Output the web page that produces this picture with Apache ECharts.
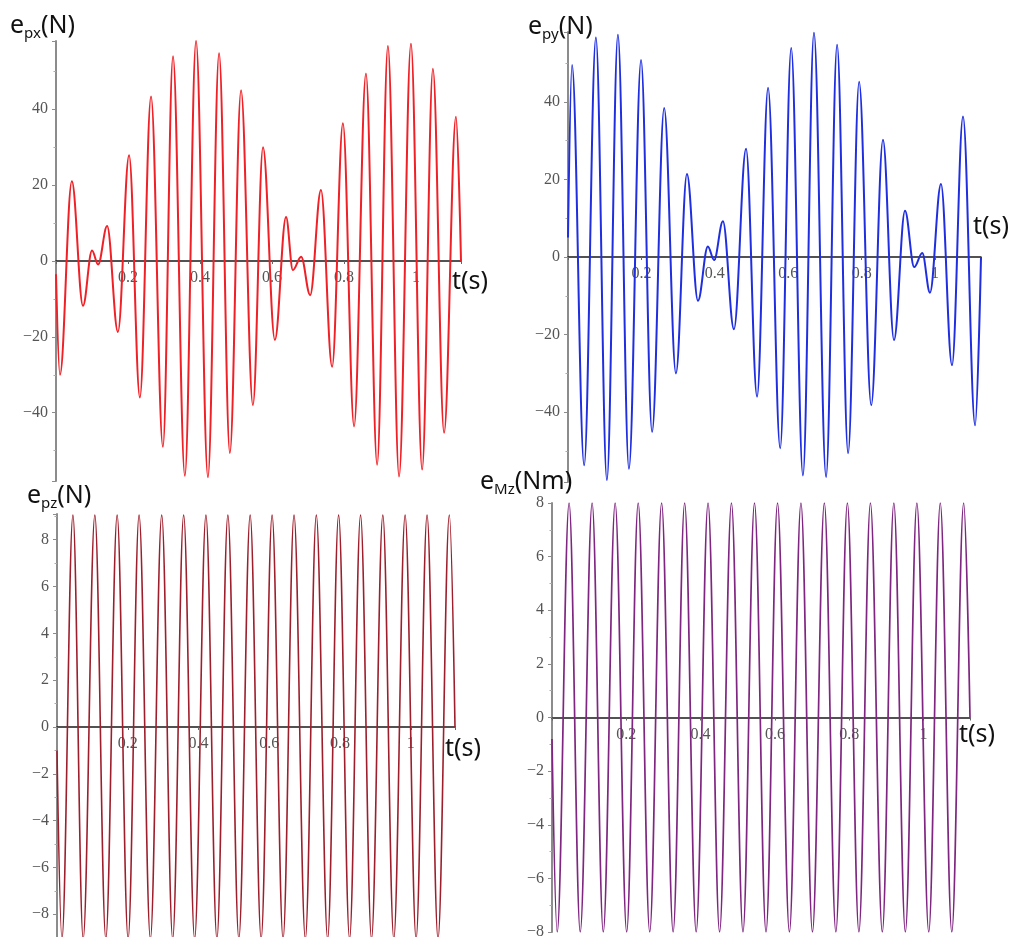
<!DOCTYPE html>
<html>
<head>
<meta charset="utf-8">
<script src="https://cdn.jsdelivr.net/npm/echarts@6/dist/echarts.min.js"></script>
<style>
  html, body { margin: 0; padding: 0; background: #fff; }
  #chart { width: 1014px; height: 937px; }
</style>
</head>
<body>
<div id="chart"></div>
<script>
// ---- Data (extrema of each trace) ----
const tPx = [0, 0.011, 0.044, 0.075, 0.100, 0.117, 0.142, 0.172, 0.203, 0.233, 0.264, 0.297, 0.325, 0.358, 0.389, 0.422, 0.453, 0.483, 0.514, 0.547, 0.575, 0.608, 0.639, 0.658, 0.681, 0.706, 0.736, 0.767, 0.797, 0.828, 0.861, 0.892, 0.922, 0.953, 0.986, 1.017, 1.047, 1.078, 1.111, 1.125];
const ePx = [-3.5, -30, 21, -11.8, 2.8, -0.9, 9.2, -18.7, 27.9, -36, 43.4, -49, 54, -56.6, 58, -57, 54.8, -50.6, 45, -38, 30, -20.8, 11.6, -2.4, 1.1, -9, 18.7, -27.9, 36.3, -43.6, 49.4, -53.7, 56.7, -56.8, 57.3, -55, 50.7, -45.3, 38, 0];

const tPy = [0, 0.011, 0.044, 0.076, 0.106, 0.136, 0.166, 0.199, 0.229, 0.262, 0.294, 0.324, 0.354, 0.381, 0.398, 0.422, 0.452, 0.485, 0.515, 0.545, 0.578, 0.608, 0.640, 0.670, 0.703, 0.733, 0.763, 0.793, 0.826, 0.858, 0.888, 0.918, 0.943, 0.965, 0.986, 1.016, 1.046, 1.076, 1.109, 1.125];
const ePy = [5, 49.5, -53.7, 56.6, -57.5, 57.3, -54.6, 50.8, -45.1, 38.4, -30, 21.4, -11.3, 2.7, -0.8, 9.2, -18.6, 27.9, -36, 43.6, -49.3, 53.9, -56.3, 57.8, -56.7, 54.7, -50.6, 45.2, -38.2, 30.2, -21.4, 11.9, -2.6, 1.0, -9.2, 18.8, -27.9, 36.2, -43.4, 0];

const tPz = [0, 0.014, 0.045, 0.074, 0.107, 0.138, 0.170, 0.201, 0.232, 0.264, 0.296, 0.327, 0.358, 0.389, 0.421, 0.452, 0.483, 0.514, 0.546, 0.577, 0.608, 0.639, 0.670, 0.702, 0.733, 0.765, 0.796, 0.827, 0.858, 0.889, 0.921, 0.952, 0.984, 1.015, 1.046, 1.077, 1.109, 1.125];
const ePz = [-1, -9.05, 9.05, -9.05, 9.05, -9.05, 9.05, -9.05, 9.05, -9.05, 9.05, -9.05, 9.05, -9.05, 9.05, -9.05, 9.05, -9.05, 9.05, -9.05, 9.05, -9.05, 9.05, -9.05, 9.05, -9.05, 9.05, -9.05, 9.05, -9.05, 9.05, -9.05, 9.05, -9.05, 9.05, -9.05, 9.05, 0];

const tMz = [0, 0.014, 0.046, 0.076, 0.108, 0.138, 0.170, 0.201, 0.232, 0.263, 0.295, 0.326, 0.357, 0.388, 0.420, 0.451, 0.483, 0.514, 0.545, 0.576, 0.607, 0.639, 0.670, 0.701, 0.733, 0.764, 0.795, 0.826, 0.857, 0.889, 0.920, 0.951, 0.982, 1.014, 1.045, 1.076, 1.108, 1.125];
const eMz = [-0.8, -8, 8, -8, 8, -8, 8, -8, 8, -8, 8, -8, 8, -8, 8, -8, 8, -8, 8, -8, 8, -8, 8, -8, 8, -8, 8, -8, 8, -8, 8, -8, 8, -8, 8, -8, 8, 0];

const xTicks = [0.2, 0.4, 0.6, 0.8, 1];
const yTicksTop = [-40, -20, 0, 20, 40];
const yTicksPz = [-8, -6, -4, -2, 0, 2, 4, 6, 8];
const yTicksMz = [-8, -6, -4, -2, 0, 2, 4, 6, 8];

// ---- Build chart ----
const zip = (t, v) => t.map((x, i) => [x, v[i]]);
const fmtNum = v => (v < 0 ? '\u2212' + String(-v) : String(v));
const inList = (list, v) => list.some(x => Math.abs(x - v) < 1e-6);

const panels = [
  { grid: { left: 56, top: 41, width: 405, height: 440 }, ymin: -58, ymax: 58, split: 5, yt: yTicksTop,
    t: tPx, v: ePx, color: '#ef2026', width: 2, nameGap: -9, nameVA: 'top', namePad: [8, 0, 0, 0] },
  { grid: { left: 568, top: 32, width: 413, height: 450 }, ymin: -58, ymax: 58, split: 5, yt: yTicksTop,
    t: tPy, v: ePy, color: '#1f2fe0', width: 2, nameGap: -8, nameVA: 'bottom', namePad: [0, 0, 18, 0] },
  { grid: { left: 57, top: 514, width: 398, height: 426 }, ymin: -9.1, ymax: 9.1, split: 9, yt: yTicksPz,
    t: tPz, v: ePz, color: '#9e1f2c', width: 1.6, nameGap: -10, nameVA: 'top', namePad: [9, 0, 0, 0] },
  { grid: { left: 552, top: 503, width: 418, height: 429 }, ymin: -8, ymax: 8, interval: 2, yt: yTicksMz,
    t: tMz, v: eMz, color: '#7f2680', width: 1.7, nameGap: -11, nameVA: 'top', namePad: [5, 0, 0, 0] }
];

const labelFont = 'Liberation Serif, DejaVu Serif, serif';
const textFont = 'Noto Sans, Open Sans, sans-serif';

const titleRich = {
  m: { fontFamily: textFont, fontSize: 25, lineHeight: 30, color: '#111', fontWeight: 'normal' },
  s: { fontFamily: textFont, fontSize: 15, lineHeight: 8, color: '#111', fontWeight: 'normal', verticalAlign: 'bottom' }
};

// place the time axis on the value 0 of the force axis
const zeroOffset = p => -p.grid.height * (0 - p.ymin) / (p.ymax - p.ymin);

const option = {
  animation: false,
  backgroundColor: '#ffffff',
  title: [
    { text: '{m|e}{s|px}{m|(N)}', left: 10, top: 11, padding: 0, textStyle: { fontWeight: 'normal', rich: titleRich } },
    { text: '{m|e}{s|py}{m|(N)}', left: 528, top: 12, padding: 0, textStyle: { fontWeight: 'normal', rich: titleRich } },
    { text: '{m|e}{s|pz}{m|(N)}', left: 27, top: 481, padding: 0, textStyle: { fontWeight: 'normal', rich: titleRich } },
    { text: '{m|e}{s|Mz}{m|(Nm)}', left: 480, top: 467, padding: 0, textStyle: { fontWeight: 'normal', rich: titleRich } }
  ],
  grid: panels.map(p => Object.assign({ containLabel: false, outerBoundsMode: 'none' }, p.grid)),
  xAxis: panels.map((p, i) => ({
    type: 'value', gridIndex: i, min: 0, max: 1.125, interval: 0.2,
    position: 'bottom', offset: zeroOffset(p),
    name: 't(s)', nameLocation: 'end', nameGap: p.nameGap, nameMoveOverlap: false,
    nameTextStyle: { fontFamily: textFont, fontSize: 25, lineHeight: 25, color: '#111',
      align: 'left', verticalAlign: p.nameVA, padding: p.namePad },
    axisLine: { show: true, onZero: false, lineStyle: { color: '#1a1a1a', width: 1.5 } },
    axisTick: { show: true, length: 3, lineStyle: { color: '#666', width: 1 } },
    axisLabel: { fontFamily: labelFont, fontSize: 16, color: '#555', margin: 9,
      formatter: v => inList(xTicks, v) ? String(+v.toFixed(1)) : '' },
    splitLine: { show: false }
  })),
  yAxis: panels.map((p, i) => {
    const ax = {
      type: 'value', gridIndex: i, min: p.ymin, max: p.ymax,
      axisLine: { show: true, onZero: false, lineStyle: { color: '#8c8c8c', width: 2 } },
      axisTick: { show: true, length: 4, lineStyle: { color: '#8c8c8c', width: 1 } },
      minorTick: { show: true, splitNumber: 2, length: 2.5, lineStyle: { color: '#aaa', width: 1 } },
      axisLabel: { fontFamily: labelFont, fontSize: 16, color: '#555', margin: 8,
        formatter: v => inList(p.yt, v) ? fmtNum(Math.round(v)) : '' },
      splitLine: { show: false }
    };
    if (p.interval) ax.interval = p.interval; else ax.splitNumber = p.split;
    return ax;
  }),
  series: panels.map((p, i) => ({
    type: 'line', xAxisIndex: i, yAxisIndex: i,
    data: zip(p.t, p.v),
    showSymbol: false, smooth: 0.363, smoothMonotone: 'x',
    lineStyle: { color: p.color, width: p.width },
    silent: true, z: 1
  }))
};

const chart = echarts.init(document.getElementById('chart'), null, { renderer: 'canvas' });
chart.setOption(option);
</script>
</body>
</html>
